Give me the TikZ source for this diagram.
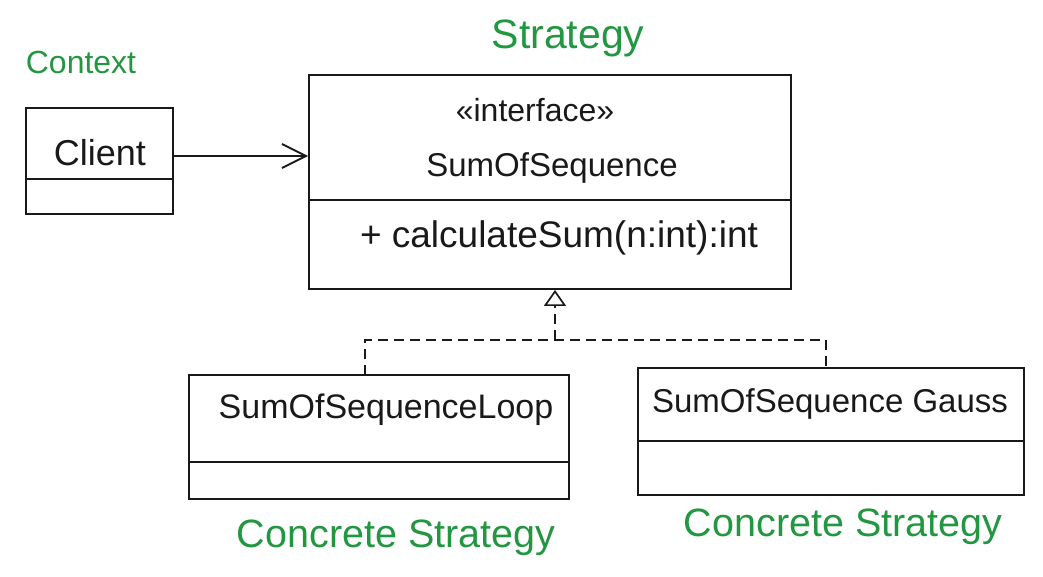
\documentclass[tikz,border=0pt]{standalone}
\usepackage{fontspec}
\setmainfont{Liberation Sans}
\usetikzlibrary{arrows.meta}
\definecolor{hgreen}{RGB}{34,150,64}
\definecolor{ink}{RGB}{25,25,25}
\tikzset{
  box/.style={draw=ink, line width=1.9pt, rectangle, inner sep=0pt},
  divider/.style={draw=ink, line width=1.9pt},
  txt/.style={text=ink, inner sep=0pt, anchor=center},
  lbl/.style={text=hgreen, inner sep=0pt, anchor=center},
  conn/.style={draw=ink, line width=1.9pt},
  realize/.style={draw=ink, line width=1.7pt, dash pattern=on 10pt off 6pt},
}
\begin{document}
\begin{tikzpicture}[x=1pt,y=-1pt]
\useasboundingbox (0,0) rectangle (1043,577);
% boxes
\node[box, minimum width=147pt, minimum height=106pt] (client) at (99.5,161) {};
\node[box, minimum width=482pt, minimum height=214pt] (strategy) at (550,182) {};
\node[box, minimum width=380pt, minimum height=124pt] (loop) at (379,437) {};
\node[box, minimum width=386pt, minimum height=127pt] (gauss) at (831,431.5) {};
% dividers
\draw[divider] (client.west |- 0,179) -- (client.east |- 0,179);
\draw[divider] (strategy.west |- 0,200) -- (strategy.east |- 0,200);
\draw[divider] (loop.west |- 0,462) -- (loop.east |- 0,462);
\draw[divider] (gauss.west |- 0,441) -- (gauss.east |- 0,441);
% texts
\node[txt, font=\fontsize{36}{42}\selectfont] (tclient) at (100,153) {Client};
\node[txt, font=\fontsize{32}{38}\selectfont] (tint) at (535,110) {«interface»};
\node[txt, font=\fontsize{33}{40}\selectfont] (tsum) at (552,168) {SumOfSequence};
\node[txt, font=\fontsize{37}{44}\selectfont] (tcalc) at (559,238) {+ calculateSum(n:int):int};
\node[txt, font=\fontsize{34}{40}\selectfont] (tloop) at (386,410) {SumOfSequenceLoop};
\node[txt, font=\fontsize{33}{40}\selectfont] (tgauss) at (830,404) {SumOfSequence Gauss};
% green labels
\node[lbl, font=\fontsize{32}{40}\selectfont] (lcontext) at (81,62) {Context};
\node[lbl, font=\fontsize{41}{48}\selectfont] (lstrategy) at (568,38) {Strategy};
\node[lbl, font=\fontsize{39.5}{46}\selectfont] (lconc1) at (396,538) {Concrete Strategy};
\node[lbl, font=\fontsize{39.5}{46}\selectfont] (lconc2) at (843,527) {Concrete Strategy};
% association
\coordinate (cs) at (173,156);
\draw[conn, -{Straight Barb[length=24pt,width=24pt,line width=1.9pt]}] (cs) -- (strategy.west |- cs);
% realization
\coordinate (j) at (555,340);
\coordinate (lt) at (365,375);
\coordinate (gt) at (826,368);
\draw[realize] (lt) |- (j) -| (gt);
\draw[realize, -{Triangle[open,length=16pt,width=22pt,fill=white]}] (j) -- (strategy.south -| j);
\end{tikzpicture}
\end{document}
